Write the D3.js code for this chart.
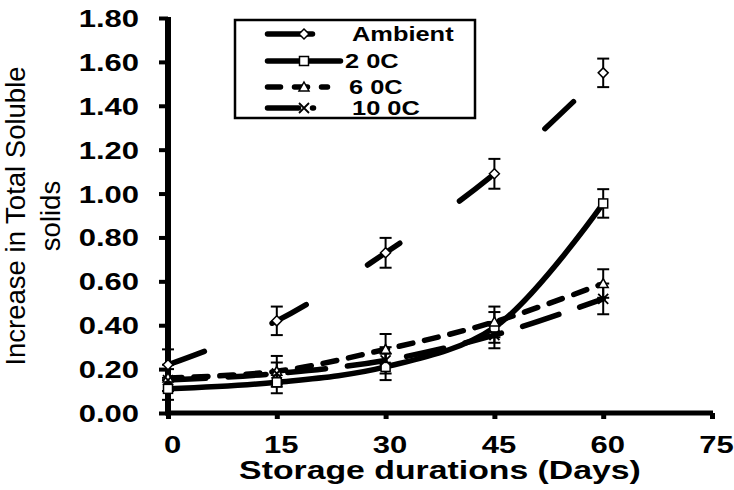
<!DOCTYPE html>
<html>
<head>
<meta charset="utf-8">
<script src="https://cdn.jsdelivr.net/npm/d3@7"></script>
<style>
  body { margin: 0; background: #fff; }
  svg { display: block; }
  text { font-family: "Liberation Sans", Arial, sans-serif; fill: #000; }
</style>
</head>
<body>
<svg id="chart" width="734" height="490"></svg>
<script>
// storage days
const days = [0, 15, 30, 45, 60];

// series means and error
const ambient = [0.22, 0.42, 0.73, 1.09, 1.55];
const ambientErr = [0.07, 0.065, 0.068, 0.068, 0.065];
const c2 = [0.11, 0.14, 0.21, 0.39, 0.955];
const c2Err = [0.05, 0.05, 0.06, 0.07, 0.065];
const c6 = [0.16, 0.19, 0.29, 0.415, 0.59];
const c6Err = [0.06, 0.07, 0.07, 0.07, 0.065];
const c10 = [0.15, 0.18, 0.24, 0.355, 0.52];
const c10Err = [0.05, 0.05, 0.06, 0.06, 0.07];

const xTicks = [0, 15, 30, 45, 60, 75];
const yTicks = [0, 0.2, 0.4, 0.6, 0.8, 1.0, 1.2, 1.4, 1.6, 1.8];

const series = [
    { name: "Ambient", values: ambient, err: ambientErr, marker: "diamond", dash: "39,73", legendDash: null, legendEnd: 315, labelX: 352 },
    { name: "2 0C", values: c2, err: c2Err, marker: "square", dash: null, legendDash: null, legendEnd: 343, labelX: 345 },
    { name: "6 0C", values: c6, err: c6Err, marker: "triangle", dash: "14,12", legendDash: "13,14", legendEnd: 330, labelX: 349 },
    { name: "10 0C", values: c10, err: c10Err, marker: "cross", dash: "38,22", legendDash: "31,14,6,40", legendEnd: 316, labelX: 352 },
];

const svg = d3.select("#chart");
const stretch = 1.32; // labels in the picture are drawn wide

const x = d3.scaleLinear().domain([0, 75]).range([168, 712]);
const y = d3.scaleLinear().domain([0, 1.8]).range([413, 18]);

// axes
const yAxis = svg.append("g")
    .attr("transform", `translate(${x(0)},0)`)
    .call(d3.axisLeft(y).tickValues(yTicks).tickSize(9).tickSizeOuter(0).tickFormat(d3.format(".2f")));
yAxis.select(".domain").attr("stroke", "#000").attr("stroke-width", 6).attr("d", `M0,${y(1.8) - 1}V${y(0) + 2}`);
yAxis.selectAll(".tick line").attr("stroke", "#000").attr("stroke-width", 4);
yAxis.selectAll(".tick text")
    .attr("x", 0)
    .attr("dy", "0.36em")
    .attr("text-anchor", "end")
    .attr("transform", `translate(-29,0) scale(${stretch},1)`)
    .style("font-size", "23.5px")
    .style("font-weight", "bold");

const xAxis = svg.append("g")
    .attr("transform", `translate(0,${y(0)})`)
    .call(d3.axisBottom(x).tickValues(xTicks).tickSize(6).tickSizeOuter(0));
xAxis.select(".domain").attr("stroke", "#000").attr("stroke-width", 5).attr("d", `M${x(0) - 3},0H${x(75) + 1}`);
xAxis.selectAll(".tick line").attr("stroke", "#000").attr("stroke-width", 5);
xAxis.selectAll(".tick text")
    .attr("y", 0)
    .attr("dy", "0.71em")
    .attr("transform", `translate(4,23) scale(${stretch},1)`)
    .attr("text-anchor", "middle")
    .style("font-size", "23.5px")
    .style("font-weight", "bold");
svg.selectAll(".domain, .tick line").attr("stroke-linecap", "butt");

// axis titles
svg.append("text")
    .attr("transform", `translate(440,479) scale(1.3,1)`)
    .attr("text-anchor", "middle")
    .style("font-size", "26px")
    .style("font-weight", "bold")
    .text("Storage durations (Days)");

const yTitle = svg.append("text")
    .attr("transform", "translate(25,216) rotate(-90)")
    .attr("text-anchor", "middle")
    .style("font-size", "27.5px");
yTitle.append("tspan").attr("x", 0).attr("y", 0).text("Increase in Total Soluble");
yTitle.append("tspan").attr("x", 0).attr("y", 35).text("solids");

// lines
const line = d3.line()
    .x((d, i) => x(days[i]))
    .y((d) => y(d))
    .curve(d3.curveCatmullRom.alpha(0.5));

series.forEach((s) => {
    svg.append("path")
        .attr("d", line(s.values))
        .attr("fill", "none")
        .attr("stroke", "#000")
        .attr("stroke-width", 5.5)
        .attr("stroke-linecap", "round")
        .attr("stroke-dasharray", s.dash);
});

// error bars
series.forEach((s) => {
    const g = svg.append("g").attr("stroke", "#000").attr("stroke-width", 2);
    s.values.forEach((v, i) => {
        const cx = x(days[i]);
        const top = y(v + s.err[i]);
        const bot = y(v - s.err[i]);
        g.append("line").attr("x1", cx).attr("x2", cx).attr("y1", top).attr("y2", bot);
        g.append("line").attr("x1", cx - 6).attr("x2", cx + 6).attr("y1", top).attr("y2", top);
        g.append("line").attr("x1", cx - 6).attr("x2", cx + 6).attr("y1", bot).attr("y2", bot);
    });
});

function drawMarker(g, type, cx, cy) {
    if (type === "diamond") {
        g.append("path").attr("d", `M${cx},${cy - 5}L${cx + 5},${cy}L${cx},${cy + 5}L${cx - 5},${cy}Z`)
            .attr("fill", "#fff").attr("stroke", "#000").attr("stroke-width", 1.5);
    } else if (type === "square") {
        g.append("rect").attr("x", cx - 4.5).attr("y", cy - 4.5).attr("width", 9).attr("height", 9)
            .attr("fill", "#fff").attr("stroke", "#000").attr("stroke-width", 1.5);
    } else if (type === "triangle") {
        g.append("path").attr("d", `M${cx},${cy - 5}L${cx + 5},${cy + 4}L${cx - 5},${cy + 4}Z`)
            .attr("fill", "#fff").attr("stroke", "#000").attr("stroke-width", 1.5);
    } else {
        g.append("path").attr("d", `M${cx - 5},${cy - 5}L${cx + 5},${cy + 5}M${cx + 5},${cy - 5}L${cx - 5},${cy + 5}`)
            .attr("fill", "none").attr("stroke", "#000").attr("stroke-width", 1.8);
    }
}

// markers
series.forEach((s) => {
    const g = svg.append("g");
    s.values.forEach((v, i) => drawMarker(g, s.marker, x(days[i]), y(v)));
});

// legend
const legend = svg.append("g");
legend.append("rect")
    .attr("x", 235).attr("y", 20).attr("width", 240).attr("height", 98)
    .attr("fill", "#fff").attr("stroke", "#000").attr("stroke-width", 2.5);
const rowY = [34, 61, 87, 108];
series.forEach((s, i) => {
    const ly = rowY[i];
    legend.append("line")
        .attr("x1", 267.5).attr("x2", s.legendEnd - 2.5).attr("y1", ly).attr("y2", ly)
        .attr("stroke", "#000").attr("stroke-width", 5.5).attr("stroke-linecap", "round")
        .attr("stroke-dasharray", s.legendDash);
    drawMarker(legend, s.marker, 304, ly);
    legend.append("text")
        .attr("transform", `translate(${s.labelX},${ly + 7}) scale(1.27,1)`)
        .style("font-size", "20px")
        .style("font-weight", "bold")
        .text(s.name);
});
</script>
</body>
</html>
